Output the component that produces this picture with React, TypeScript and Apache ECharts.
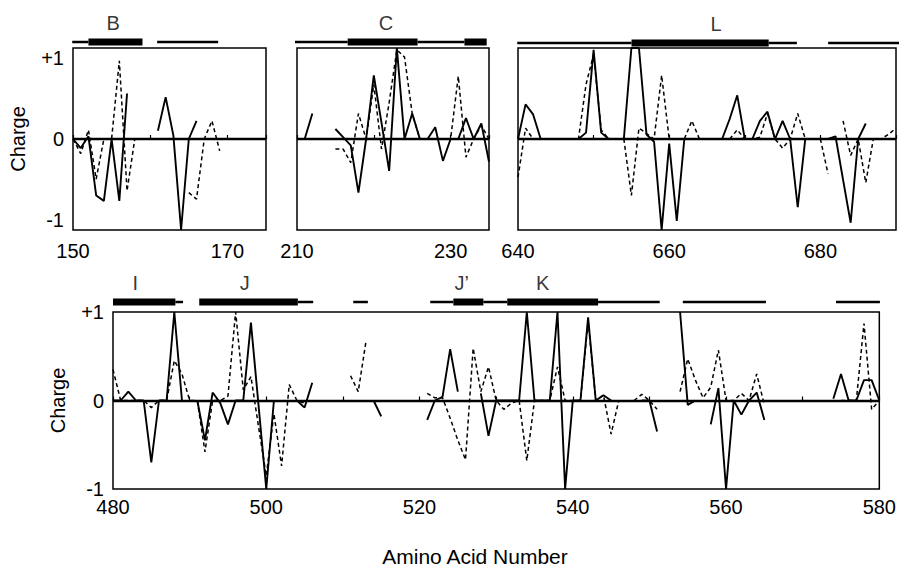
import React, { useEffect, useRef } from 'react';
import * as echarts from 'echarts';

// ---- Data ----
// Panel B: residues 150..
const startB = 150;
const solidB = [0, -0.1, 0.03, -0.62, -0.68, 0, -0.68, 0.5, null, null, null, 0.09, 0.46, 0.04, -1, 0, 0.2];
const dashedB = [0, -0.16, 0.1, -0.44, 0, 0, 0.86, -0.57, 0, null, null, null, null, null, null, -0.59, -0.66, 0, 0.2, -0.13];

// Panel C: residues 210..
const startC = 210;
const solidC = [0, 0, 0.28, null, null, 0.11, 0.02, -0.07, -0.59, 0, 0.7, 0.18, -0.35, 1, 0, 0.28, 0, 0, 0.13, -0.24, 0, 0, 0.23, 0, 0.17, -0.25];
const dashedC = [null, null, null, null, null, -0.11, -0.11, -0.26, 0.28, 0, 0.6, -0.11, 0.4, 0.98, 0.9, 0.28, 0, 0, 0, 0, 0, 0.69, -0.2, 0, 0.15, 0];

// Panel L: residues 640..
const startL = 640;
const solidL = [
  0, 0.38, 0.27, 0, null, null, null, null,
  0, 0.07, 0.98, 0.07, 0, null,
  0, 1, 1, 0.05, -0.03, -1, -0.05, -0.9, 0,
  null, null, null, null,
  0, 0.22, 0.48, 0, 0, 0.2, 0.3, 0, 0.2, 0, -0.75, 0, 0, 0, 0, 0.03, -0.45, -0.92, 0, 0.17,
];
const dashedL = [
  -0.42, 0.12, 0, null, null, null, null,
  0, 0, 0.6, 0.93, 0.1, 0, null,
  0, -0.62, 0.12, 0.06, 0, 0.7, 0, 0, 0, 0.2, 0,
  null, null, null,
  0, 0.1, 0, 0, 0.02, 0.28, 0, -0.1, 0, 0.28, 0,
  null, 0, -0.38, null,
  0.2, -0.18, 0, -0.48, 0, 0, 0.05, 0.12,
];

// Bottom panel: residues 480..
const startBot = 480;
const solidBot = [
  0, 0, 0.1, 0, 0, -0.7, 0, 0, 1, 0,
  null, 0, -0.45, 0.09, -0.03, -0.27, 0, 0, 0.88, -0.06,
  -1, 0, null, null, 0, -0.08, 0.2, null, null, null,
  null, null, null, null, 0, -0.18, null, null, null, null,
  null, -0.22, 0, 0.04, 0.58, 0.1, null, null, 0.08, -0.4,
  0, 0, 0, 0, 1, 0, 0, 0, 1, -1,
  0, 0, 0.94, 0, 0.06, 0, null, null, null, 0,
  0, -0.35, null, null, 1, -0.05, 0, null, -0.27, 0.14,
  -1, 0, -0.16, 0, 0.09, -0.22, null, null, null, null,
  null, null, null, null, 0.02, 0.3, 0, 0, 0.23, 0.23,
  0,
];
const dashedBot = [
  0.35, 0, 0, 0, 0, -0.08, 0, 0, 0.45, 0.3,
  0, 0, -0.58, 0, 0, 0.05, 1, 0.12, 0.27, -0.3,
  -0.85, -0.15, -0.74, 0.18, 0, -0.03, null, null, null, null,
  null, 0.28, 0.1, 0.66, null, null, null, null, null, null,
  null, 0.08, 0.03, 0.03, -0.2, -0.45, -0.67, 0.59, 0.1, 0.38,
  0, -0.1, -0.03, 0, -0.68, 0, 0, 0, 0.38, 0,
  0, 0, 0.9, 0, 0.06, -0.38, 0, null, 0, 0.07,
  0, -0.1, null, null, 0.1, 0.47, 0.23, 0.03, 0.15, 0.57,
  0, 0, 0.08, 0, 0.3, -0.05, null, null, null, null,
  null, null, null, null, null, 0, 0, 0, 0.87, -0.1,
  0,
];

// Secondary-structure bars: [from, to, thick(1)/thin(0)]
const barsB = [[149.9, 152, 0], [152, 159, 1], [160.9, 168.8, 0]];
const barsC = [[209.7, 216.6, 0], [216.6, 225.7, 1], [225.7, 231.8, 0], [231.8, 234.7, 1]];
const barsL = [[639.9, 654.9, 0], [654.9, 672.9, 1], [672.9, 676.6, 0], [680.7, 690, 0]];
const barsBot = [
  [480, 488.1, 1], [488.1, 489.1, 0], [491.2, 504, 1], [504, 506, 0], [511.2, 513.1, 0],
  [521.2, 524.2, 0], [524.2, 528.1, 1], [528.1, 531.2, 0], [531.2, 543, 1], [543, 551, 0],
  [554, 564.8, 0], [573.9, 579.6, 0],
];

// Segment labels: [position, text]
const lettersB = [[155.2, 'B']];
const lettersC = [[221.6, 'C']];
const lettersL = [[666, 'L']];
const lettersBot = [[482.9, 'I'], [497.1, 'J'], [525.3, 'J’'], [535.8, 'K']];

const yTicks = [-1, 0, 1];

const panels = [
  { min: 150, max: 175, start: startB, solid: solidB, dashed: dashedB, bars: barsB, letters: lettersB, showY: true },
  { min: 210, max: 235, start: startC, solid: solidC, dashed: dashedC, bars: barsC, letters: lettersC, showY: false },
  { min: 640, max: 690, start: startL, solid: solidL, dashed: dashedL, bars: barsL, letters: lettersL, showY: false },
  { min: 480, max: 580, start: startBot, solid: solidBot, dashed: dashedBot, bars: barsBot, letters: lettersBot, showY: true },
];

// ---- Layout ----
const layout = [
  { left: 73, top: 48, width: 193, height: 182, barTop: 37, labelMargin: 11, topRow: true },
  { left: 297, top: 48, width: 192, height: 182, barTop: 37, labelMargin: 11, topRow: true },
  { left: 518, top: 48, width: 384, height: 182, barTop: 38, labelMargin: 11, topRow: true },
  { left: 113, top: 312, width: 770, height: 177, barTop: 297, labelMargin: 8, topRow: false },
];

const FONT = 'Liberation Sans, Arial, Helvetica, sans-serif';

function buildOption() {
  const grid: any[] = [];
  const xAxis: any[] = [];
  const yAxis: any[] = [];
  const series: any[] = [];

  panels.forEach((p, i) => {
    const L = layout[i];
    const gPlot = grid.length;
    grid.push({
      left: L.left, top: L.top, width: L.width, height: L.height,
      show: true, borderColor: '#000', borderWidth: 1.5, backgroundColor: 'transparent',
      containLabel: false,
    });
    xAxis.push({
      type: 'value', gridIndex: gPlot, min: p.min, max: p.max, interval: 10,
      axisLine: { show: false },
      axisTick: { show: true, inside: true, length: 4, lineStyle: { color: '#000', width: 1.2 } },
      splitLine: { show: false },
      axisLabel: {
        color: '#000', fontSize: 20, fontFamily: FONT, margin: L.labelMargin,
        formatter: (v: number) => ((v - p.min) % 20 === 0 ? String(v) : ''),
      },
    });
    yAxis.push({
      type: 'value', gridIndex: gPlot, min: -1, max: 1, interval: 1,
      axisLine: { show: false },
      axisTick: { show: false },
      splitLine: { show: false },
      axisLabel: {
        show: p.showY, color: '#000', fontSize: 20, fontFamily: FONT, margin: 9,
        formatter: (v: number) => (v === yTicks[2] ? '+1' : String(v)),
        verticalAlignMaxLabel: L.topRow ? 'top' : undefined,
        verticalAlignMinLabel: L.topRow ? 'bottom' : undefined,
      },
      name: p.showY ? 'Charge' : '',
      nameLocation: 'middle',
      nameGap: 45,
      nameTextStyle: { color: '#000', fontSize: 20, fontFamily: FONT },
    });
    const axisIdx = xAxis.length - 1;

    const toPairs = (arr: (number | null)[]) => arr.map((v, k) => [p.start + k, v == null ? null : v]);

    series.push({
      type: 'line', xAxisIndex: axisIdx, yAxisIndex: axisIdx,
      data: toPairs(p.dashed), showSymbol: false, symbol: 'none', connectNulls: false,
      lineStyle: { color: '#000', width: 1.5, type: [4, 3] }, z: 3,
    });
    series.push({
      type: 'line', xAxisIndex: axisIdx, yAxisIndex: axisIdx,
      data: toPairs(p.solid), showSymbol: false, symbol: 'none', connectNulls: false,
      lineStyle: { color: '#000', width: 1.9, type: 'solid' }, z: 4,
      markLine: {
        silent: true, symbol: ['none', 'none'], label: { show: false },
        lineStyle: { color: '#000', width: 2.4, type: 'solid' },
        data: [{ yAxis: 0 }],
      },
    });

    // bar grid
    const gBar = grid.length;
    grid.push({ left: L.left, top: L.barTop, width: L.width, height: 10, show: false });
    xAxis.push({ type: 'value', gridIndex: gBar, min: p.min, max: p.max, show: false });
    yAxis.push({ type: 'value', gridIndex: gBar, min: 0, max: 1, show: false });
    const barIdx = xAxis.length - 1;
    p.bars.forEach((b) => {
      series.push({
        type: 'line', xAxisIndex: barIdx, yAxisIndex: barIdx, clip: false,
        data: [[b[0], 0.5], [b[1], 0.5]], showSymbol: false, symbol: 'none',
        lineStyle: { color: '#000', width: b[2] ? 7 : 2.5, cap: 'butt' },
      });
    });
    series.push({
      type: 'scatter', xAxisIndex: barIdx, yAxisIndex: barIdx, clip: false,
      symbolSize: 1, itemStyle: { color: 'rgba(0,0,0,0)' },
      data: p.letters.map((l) => [l[0], 0.5, l[1]]),
      label: {
        show: true, position: 'top', distance: 9, color: '#000', fontSize: 20, fontFamily: FONT,
        formatter: (d: any) => d.value[2],
      },
    });
  });

  return {
    animation: false,
    backgroundColor: '#fff',
    grid, xAxis, yAxis, series,
    graphic: [
      {
        type: 'text', x: 475, y: 556,
        style: {
          text: 'Amino Acid Number', fill: '#000', fontSize: 21, fontFamily: FONT,
          textAlign: 'center', textVerticalAlign: 'middle', align: 'center', verticalAlign: 'middle',
        },
      },
    ],
  };
}

export default function App() {
  const ref = useRef<HTMLDivElement>(null);
  useEffect(() => {
    if (!ref.current) return;
    const chart = echarts.init(ref.current, null, { renderer: 'svg' });
    chart.setOption(buildOption() as any);
    return () => chart.dispose();
  }, []);
  return (
    <div
      ref={ref}
      style={{ position: 'fixed', left: 0, top: 0, width: 899, height: 566, background: '#fff' }}
    />
  );
}
